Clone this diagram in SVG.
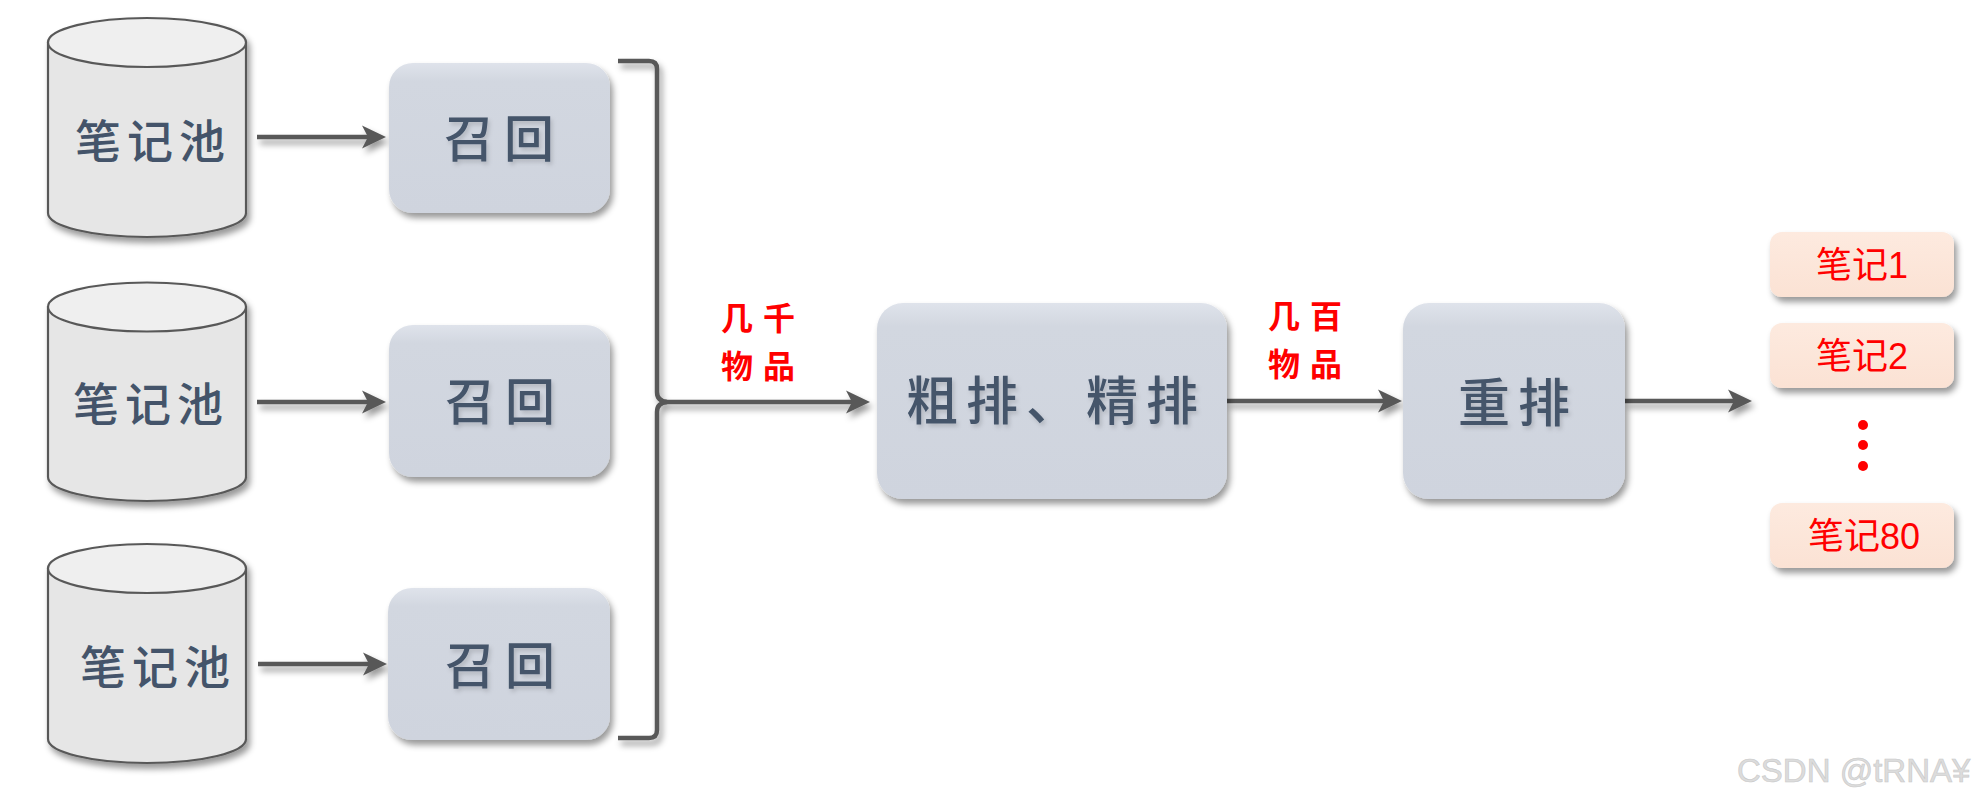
<svg xmlns="http://www.w3.org/2000/svg" width="1988" height="804" viewBox="0 0 1988 804">
<defs>
<style>
.cyl{fill:#e6e6e6;stroke:#595959;stroke-width:2.2}
.cyltop{fill:#efefef;stroke:#595959;stroke-width:2.2}
.box{fill:url(#boxg)}
.note{fill:url(#noteg)}
.t{font-family:"Noto Sans CJK SC","Noto Sans CJK TC",sans-serif;fill:#44546a;text-anchor:middle;font-weight:500}
.lbl{font-family:"Noto Sans CJK SC",sans-serif;fill:#ff0000;font-weight:bold;font-size:32px;text-anchor:middle;letter-spacing:10px}
.nt{font-family:"Liberation Sans","Noto Sans CJK SC",sans-serif;fill:#ff0000;font-size:36px;text-anchor:middle}
.ln{fill:none;stroke:#595959;stroke-width:4.5}
</style>
<linearGradient id="boxg" x1="0" y1="0" x2="0" y2="1">
<stop offset="0" stop-color="#dfe3eb"/>
<stop offset="0.12" stop-color="#d2d7e0"/>
<stop offset="1" stop-color="#cfd4de"/>
</linearGradient>
<linearGradient id="noteg" x1="0" y1="0" x2="0" y2="1">
<stop offset="0" stop-color="#fdeadf"/>
<stop offset="1" stop-color="#fbe2d4"/>
</linearGradient>
<filter id="sh" filterUnits="userSpaceOnUse" x="0" y="0" width="1988" height="804">
<feDropShadow dx="3" dy="5" stdDeviation="3" flood-color="#000" flood-opacity="0.4"/>
</filter>
<filter id="tsh" filterUnits="userSpaceOnUse" x="0" y="0" width="1988" height="804">
<feDropShadow dx="2" dy="3" stdDeviation="2" flood-color="#000" flood-opacity="0.15"/>
</filter>
<marker id="arr" markerUnits="userSpaceOnUse" markerWidth="26" markerHeight="26" viewBox="0 0 26 26" refX="12" refY="13" orient="auto">
<path d="M1,1.5 L25,13 L1,24.5 L7,13 Z" fill="#595959"/>
</marker>
</defs>
<rect width="1988" height="804" fill="#ffffff"/>

<g id="connectors" filter="url(#sh)">
<line class="ln" x1="257" y1="137" x2="373" y2="137" marker-end="url(#arr)"/>
<line class="ln" x1="257" y1="402" x2="373" y2="402" marker-end="url(#arr)"/>
<line class="ln" x1="258" y1="664" x2="374" y2="664" marker-end="url(#arr)"/>
<path class="ln" d="M618,61 H649 Q657,61 657,69 V392 Q657,401 667,402 Q657,403 657,412 V730 Q657,738 649,738 H618"/>
<line class="ln" x1="665" y1="402" x2="857" y2="402" marker-end="url(#arr)"/>
<line class="ln" x1="1227" y1="401" x2="1389" y2="401" marker-end="url(#arr)"/>
<line class="ln" x1="1625" y1="401" x2="1739" y2="401" marker-end="url(#arr)"/>
</g>

<g id="pool1">
<g filter="url(#sh)">
<path class="cyl" d="M48,42.5 V213 A99,24 0 0 0 246,213 V42.5 Z"/>
<ellipse class="cyltop" cx="147" cy="42.5" rx="99" ry="24.5"/>
</g>
<text class="t" x="153" y="158" font-size="46" letter-spacing="6">笔记池</text>
</g>
<g id="pool2">
<g filter="url(#sh)">
<path class="cyl" d="M48,307 V477 A99,24 0 0 0 246,477 V307 Z"/>
<ellipse class="cyltop" cx="147" cy="307" rx="99" ry="24.5"/>
</g>
<text class="t" x="151" y="421" font-size="46" letter-spacing="6">笔记池</text>
</g>
<g id="pool3">
<g filter="url(#sh)">
<path class="cyl" d="M48,568.5 V739 A99,24 0 0 0 246,739 V568.5 Z"/>
<ellipse class="cyltop" cx="147" cy="568.5" rx="99" ry="24.5"/>
</g>
<text class="t" x="158" y="684" font-size="46" letter-spacing="6">笔记池</text>
</g>

<g id="recall1">
<rect class="box" x="389" y="63" width="221" height="150" rx="24" filter="url(#sh)"/>
<text class="t" x="504" y="157" font-size="50" letter-spacing="10" filter="url(#tsh)">召回</text>
</g>
<g id="recall2">
<rect class="box" x="389" y="325" width="221" height="152" rx="24" filter="url(#sh)"/>
<text class="t" x="505" y="420" font-size="50" letter-spacing="10" filter="url(#tsh)">召回</text>
</g>
<g id="recall3">
<rect class="box" x="388" y="588" width="222" height="152" rx="24" filter="url(#sh)"/>
<text class="t" x="505" y="684" font-size="50" letter-spacing="10" filter="url(#tsh)">召回</text>
</g>

<g id="label1">
<text class="lbl" x="763" y="330">几千</text>
<text class="lbl" x="763" y="378">物品</text>
</g>

<g id="rank">
<rect class="box" x="877" y="303" width="350" height="196" rx="26" filter="url(#sh)"/>
<text class="t" x="1056" y="420" font-size="52" letter-spacing="8" filter="url(#tsh)">粗排、精排</text>
</g>

<g id="label2">
<text class="lbl" x="1310" y="328">几百</text>
<text class="lbl" x="1310" y="376">物品</text>
</g>

<g id="rerank">
<rect class="box" x="1403" y="303" width="222" height="196" rx="26" filter="url(#sh)"/>
<text class="t" x="1518" y="422" font-size="52" letter-spacing="8" filter="url(#tsh)">重排</text>
</g>

<g id="note1">
<rect class="note" x="1770" y="232" width="184" height="65" rx="12" filter="url(#sh)"/>
<text class="nt" x="1862" y="278">笔记1</text>
</g>
<g id="note2">
<rect class="note" x="1770" y="323" width="184" height="65" rx="12" filter="url(#sh)"/>
<text class="nt" x="1862" y="369">笔记2</text>
</g>
<g id="dots" fill="#ff0000">
<circle cx="1863" cy="425" r="5"/>
<circle cx="1863" cy="445" r="5"/>
<circle cx="1863" cy="466" r="5"/>
</g>
<g id="note80">
<rect class="note" x="1770" y="503" width="184" height="65" rx="12" filter="url(#sh)"/>
<text class="nt" x="1864" y="549">笔记80</text>
</g>

<text x="1737" y="782" font-family="Liberation Sans, sans-serif" font-size="33" fill="#dcdcdc" stroke="#c8c8c8" stroke-width="0.6">CSDN @tRNA¥</text>
</svg>
